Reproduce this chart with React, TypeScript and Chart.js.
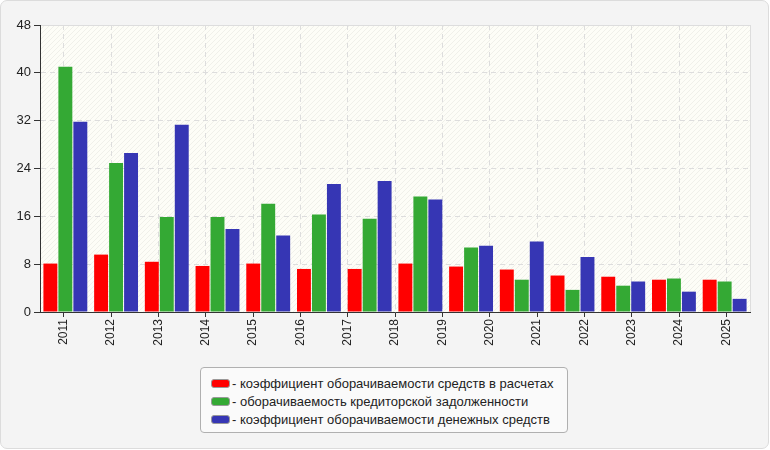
import { useEffect, useRef } from 'react';
import { Chart, registerables } from 'chart.js';

Chart.register(...registerables);

// tick labels on the x axis
const years = ['2011', '2012', '2013', '2014', '2015', '2016', '2017', '2018', '2019', '2020', '2021', '2022', '2023', '2024', '2025'];

// series values (14 bar groups)
const receivablesTurnover = [8.1, 9.6, 8.4, 7.7, 8.1, 7.2, 7.2, 8.1, 7.6, 7.1, 6.1, 5.9, 5.4, 5.4];
const payablesTurnover = [41.0, 24.9, 15.9, 15.9, 18.1, 16.3, 15.6, 19.3, 10.8, 5.4, 3.7, 4.4, 5.6, 5.1];
const cashTurnover = [31.8, 26.6, 31.3, 13.9, 12.8, 21.4, 21.9, 18.8, 11.1, 11.8, 9.2, 5.1, 3.4, 2.2];

const seriesNames = [
  '- коэффициент оборачиваемости средств в расчетах',
  '- оборачиваемость кредиторской задолженности',
  '- коэффициент оборачиваемости денежных средств',
];
const seriesColors = ['#ff0000', '#34a934', '#3636b4'];

const FONT = 'Arial, "Liberation Sans", sans-serif';

function makeHatch(): CanvasPattern | string {
  const c = document.createElement('canvas');
  c.width = 5;
  c.height = 5;
  const g = c.getContext('2d');
  if (!g) return '#fdfdf7';
  g.fillStyle = '#fdfdf7';
  g.fillRect(0, 0, 5, 5);
  g.strokeStyle = '#f0f0ea';
  g.lineWidth = 1;
  g.beginPath();
  g.moveTo(0, 5);
  g.lineTo(5, 0);
  g.moveTo(-1, 1);
  g.lineTo(1, -1);
  g.moveTo(4, 6);
  g.lineTo(6, 4);
  g.stroke();
  return g.createPattern(c, 'repeat') ?? '#fdfdf7';
}

const plotBackground = {
  id: 'plotBackground',
  beforeDraw(chart: Chart) {
    const { ctx, chartArea: a } = chart;
    ctx.save();
    ctx.fillStyle = makeHatch();
    ctx.fillRect(a.left, a.top, a.right - a.left, a.bottom - a.top);
    ctx.strokeStyle = '#dddddd';
    ctx.lineWidth = 1;
    ctx.strokeRect(a.left + 0.5, a.top + 0.5, a.right - a.left, a.bottom - a.top);
    ctx.restore();
  },
};

export default function App() {
  const canvasRef = useRef<HTMLCanvasElement>(null);
  const chartRef = useRef<Chart | null>(null);

  useEffect(() => {
    if (!canvasRef.current) return;
    if (chartRef.current) chartRef.current.destroy();

    const values = [receivablesTurnover, payablesTurnover, cashTurnover];

    chartRef.current = new Chart(canvasRef.current, {
      type: 'bar',
      data: {
        labels: years.slice(0, receivablesTurnover.length),
        datasets: values.map((data, i) => ({
          label: seriesNames[i],
          data,
          backgroundColor: seriesColors[i],
          borderWidth: 0,
          categoryPercentage: 0.886,
          barPercentage: 0.93,
        })),
      },
      options: {
        animation: false,
        responsive: false,
        layout: { padding: { left: 0, right: 20, top: 25, bottom: 98 } },
        plugins: { legend: { display: false }, tooltip: { enabled: false } },
        scales: {
          x: { type: 'category', display: false },
          // separate axis for the year labels (15 ticks over 14 bar groups)
          xYears: {
            type: 'category',
            labels: years,
            position: 'bottom',
            offset: true,
            afterFit: (s: any) => {
              s.height = 40;
            },
            ticks: {
              autoSkip: false,
              minRotation: 90,
              maxRotation: 90,
              padding: 2,
              color: '#222',
              font: { family: FONT, size: 12 },
            },
            grid: {
              offset: false,
              color: '#dddddd',
              tickBorderDash: [],
              tickColor: '#333',
              tickLength: 5,
            },
            border: { color: '#333', width: 1, dash: [5, 4] },
          },
          y: {
            min: 0,
            max: 48,
            afterFit: (s: any) => {
              s.width = 40;
            },
            ticks: {
              stepSize: 8,
              padding: 3,
              color: '#222',
              font: { family: FONT, size: 13 },
            },
            grid: {
              color: '#dddddd',
              tickBorderDash: [],
              tickColor: '#333',
              tickLength: 6,
            },
            border: { color: '#333', width: 1, dash: [5, 4] },
          },
        },
      },
      plugins: [plotBackground],
    } as any);

    return () => {
      if (chartRef.current) {
        chartRef.current.destroy();
        chartRef.current = null;
      }
    };
  }, []);

  return (
    <div style={{ position: 'fixed', left: 0, top: 0, width: 770, height: 450, background: '#fff' }}>
      <div
        style={{
          position: 'absolute',
          left: 0,
          top: 0,
          width: 769,
          height: 449,
          boxSizing: 'border-box',
          border: '1px solid #dcdcdc',
          borderRadius: 7,
          background: '#f4f4f4',
        }}
      />
      <canvas ref={canvasRef} width={770} height={450} style={{ position: 'absolute', left: 0, top: 0 }} />
      <div
        style={{
          position: 'absolute',
          left: 200,
          top: 367,
          width: 368,
          height: 66,
          boxSizing: 'border-box',
          border: '1px solid #b0b0b0',
          borderRadius: 4,
          background: '#fafafa',
          padding: '6px 0 0 10px',
          fontFamily: FONT,
          fontSize: 13,
          color: '#222',
        }}
      >
        {seriesNames.map((name, i) => (
          <div key={name} style={{ display: 'flex', alignItems: 'center', height: 18 }}>
            <span
              style={{
                display: 'inline-block',
                width: 17,
                height: 7,
                boxSizing: 'content-box',
                background: seriesColors[i],
                border: '1px solid #999',
                borderRadius: 3,
                marginRight: 2,
              }}
            />
            <span style={{ whiteSpace: 'nowrap' }}>{name}</span>
          </div>
        ))}
      </div>
    </div>
  );
}
